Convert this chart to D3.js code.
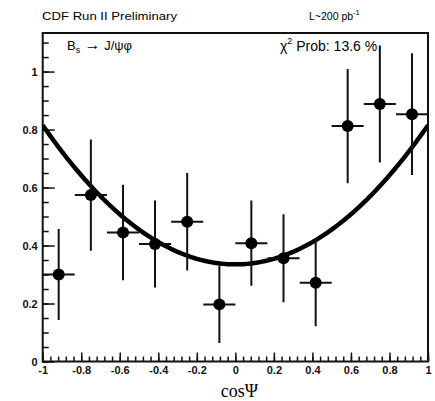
<!DOCTYPE html>
<html>
<head>
<meta charset="utf-8">
<script src="https://cdn.jsdelivr.net/npm/d3@7"></script>
<style>
  html, body { margin: 0; padding: 0; background: #ffffff; }
  svg { display: block; }
  .tick text { font-family: "Liberation Sans", Arial, sans-serif; font-weight: bold; }
</style>
</head>
<body>
<svg id="chart" width="435" height="401"></svg>
<script>
// Angular distribution of Bs -> J/psi phi in cos(psi)
const binCenters = [-0.917, -0.75, -0.583, -0.417, -0.25, -0.083, 0.083, 0.25, 0.417, 0.583, 0.75, 0.917];
const binHalfWidth = 0.0833;
const values = [0.300, 0.574, 0.445, 0.405, 0.482, 0.197, 0.408, 0.356, 0.272, 0.812, 0.888, 0.853];
const errors = [0.157, 0.192, 0.165, 0.150, 0.168, 0.133, 0.147, 0.152, 0.150, 0.197, 0.202, 0.210];

// Fit: a + b * cos^2(psi)
const fitA = 0.335;
const fitB = 0.480;

const xTickValues = [-1, -0.8, -0.6, -0.4, -0.2, 0, 0.2, 0.4, 0.6, 0.8, 1];
const xTickLabels = ["-1", "-0.8", "-0.6", "-0.4", "-0.2", "0", "0.2", "0.4", "0.6", "0.8", "1"];
const yTickValues = [0, 0.2, 0.4, 0.6, 0.8, 1];
const yTickLabels = ["0", "0.2", "0.4", "0.6", "0.8", "1"];

const svg = d3.select("#chart");
const plotLeft = 42.7, plotRight = 428, plotTop = 33, plotBottom = 361.5;

const x = d3.scaleLinear().domain([-1, 1]).range([plotLeft, plotRight]);
const y = d3.scaleLinear().domain([0, 1.133]).range([plotBottom, plotTop]);

svg.append("rect").attr("width", 435).attr("height", 401).attr("fill", "#ffffff");

svg.append("defs").append("clipPath").attr("id", "plotClip")
  .append("rect").attr("x", plotLeft).attr("y", plotTop)
  .attr("width", plotRight - plotLeft).attr("height", plotBottom - plotTop);

// Minor ticks
const xMinor = d3.range(-1, 1.0001, 0.04);
const yMinor = d3.range(0, 1.1301, 0.05);

svg.append("g").attr("transform", `translate(0,${plotBottom})`)
  .call(d3.axisTop(x).tickValues(xMinor).tickSize(5).tickFormat(""))
  .call(g => g.select(".domain").remove())
  .call(g => g.selectAll("line").attr("stroke", "#111").attr("stroke-width", 1.5));

svg.append("g").attr("transform", `translate(${plotLeft},0)`)
  .call(d3.axisRight(y).tickValues(yMinor).tickSize(6).tickFormat(""))
  .call(g => g.select(".domain").remove())
  .call(g => g.selectAll("line").attr("stroke", "#111").attr("stroke-width", 1.5));

// Major ticks with labels
svg.append("g").attr("transform", `translate(0,${plotBottom})`)
  .call(d3.axisBottom(x).tickValues(xTickValues).tickSize(0).tickPadding(5)
    .tickFormat((d, i) => xTickLabels[i]))
  .call(g => g.select(".domain").remove())
  .call(g => g.selectAll("text").attr("font-size", 11).attr("fill", "#111"));

svg.append("g").attr("transform", `translate(0,${plotBottom})`)
  .call(d3.axisTop(x).tickValues(xTickValues).tickSize(9).tickFormat(""))
  .call(g => g.select(".domain").remove())
  .call(g => g.selectAll("line").attr("stroke", "#111").attr("stroke-width", 1.5));

svg.append("g").attr("transform", `translate(${plotLeft},0)`)
  .call(d3.axisLeft(y).tickValues(yTickValues).tickSize(0).tickPadding(5)
    .tickFormat((d, i) => yTickLabels[i]))
  .call(g => g.select(".domain").remove())
  .call(g => g.selectAll("text").attr("font-size", 11).attr("fill", "#111"));

svg.append("g").attr("transform", `translate(${plotLeft},0)`)
  .call(d3.axisRight(y).tickValues(yTickValues).tickSize(12).tickFormat(""))
  .call(g => g.select(".domain").remove())
  .call(g => g.selectAll("line").attr("stroke", "#111").attr("stroke-width", 1.5));

// Frame
svg.append("rect")
  .attr("x", plotLeft).attr("y", plotTop)
  .attr("width", plotRight - plotLeft).attr("height", plotBottom - plotTop)
  .attr("fill", "none").attr("stroke", "#111").attr("stroke-width", 2);

const plot = svg.append("g").attr("clip-path", "url(#plotClip)");

// Fit curve
const curveX = d3.range(-1, 1.0001, 0.01);
plot.append("path")
  .datum(curveX)
  .attr("fill", "none").attr("stroke", "#000").attr("stroke-width", 4.5)
  .attr("d", d3.line().x(d => x(d)).y(d => y(fitA + fitB * d * d)));

// Data points with error bars
const pts = binCenters.map((c, i) => ({ c, v: values[i], e: errors[i] }));
const pg = plot.append("g");
pg.selectAll("line.v").data(pts).join("line").attr("class", "v")
  .attr("x1", d => x(d.c)).attr("x2", d => x(d.c))
  .attr("y1", d => y(d.v - d.e)).attr("y2", d => y(d.v + d.e))
  .attr("stroke", "#111").attr("stroke-width", 2);
pg.selectAll("line.h").data(pts).join("line").attr("class", "h")
  .attr("x1", d => x(d.c - binHalfWidth)).attr("x2", d => x(d.c + binHalfWidth))
  .attr("y1", d => y(d.v)).attr("y2", d => y(d.v))
  .attr("stroke", "#111").attr("stroke-width", 2);
pg.selectAll("circle").data(pts).join("circle")
  .attr("cx", d => x(d.c)).attr("cy", d => y(d.v)).attr("r", 6)
  .attr("fill", "#000");

// Labels
const sans = "'Liberation Sans', Arial, sans-serif";
svg.append("text").attr("x", 42).attr("y", 20)
  .attr("font-family", sans).attr("font-size", 10.5)
  .attr("textLength", 135).attr("lengthAdjust", "spacingAndGlyphs")
  .text("CDF Run II Preliminary");

const lum = svg.append("text").attr("x", 309).attr("y", 20)
  .attr("font-family", sans).attr("font-size", 10.5);
lum.append("tspan").text("L~200 pb");
lum.append("tspan").attr("dy", -5).attr("font-size", 7.5).text("-1");

const ch = svg.append("text").attr("x", 67).attr("y", 50)
  .attr("font-family", sans).attr("font-size", 13);
ch.append("tspan").text("B");
ch.append("tspan").attr("dy", 3).attr("font-size", 9).text("s");
ch.append("tspan").attr("dy", -3).attr("font-size", 16).text(" \u2192");
ch.append("tspan").text(" J/\u03C8\u03C6");

const chi = svg.append("text").attr("x", 280).attr("y", 51)
  .attr("font-family", sans).attr("font-size", 14);
chi.append("tspan").text("\u03C7");
chi.append("tspan").attr("dy", -7).attr("font-size", 9).text("2");
chi.append("tspan").attr("dy", 7).text(" Prob: 13.6 %");

svg.append("text").attr("x", (plotLeft + plotRight) / 2 + 4).attr("y", 397)
  .attr("text-anchor", "middle")
  .attr("font-family", "'Liberation Serif', 'Times New Roman', serif").attr("font-size", 18)
  .text("cos\u03A8");
</script>
</body>
</html>
